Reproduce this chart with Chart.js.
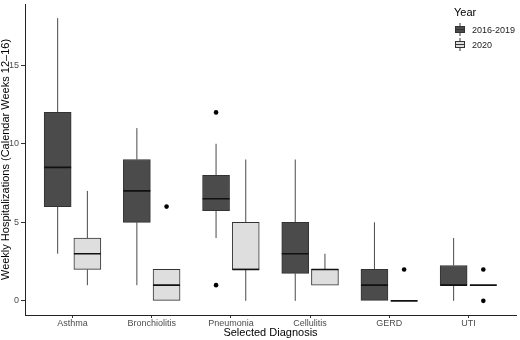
<!DOCTYPE html>
<html lang="en">
<head>
<meta charset="UTF-8">
<title>Weekly Hospitalizations</title>
<script src="https://cdn.jsdelivr.net/npm/chart.js"></script>
<style>
  body { margin: 0; background: #fff; font-family: "Liberation Sans", Arial, sans-serif; }
  #wrap { position: relative; width: 520px; height: 340px; }
  #legend { position: absolute; left: 454px; top: 6px; color: #000; }
  #legend .ttl { font-size: 11px; margin-bottom: 4px; }
  #legend .row { display: flex; align-items: center; height: 15px; font-size: 9px; color: #222; }
  #legend canvas { margin-right: 6px; }
</style>
</head>
<body>
<div id="wrap">
  <canvas id="chart" width="520" height="340"></canvas>
  <div id="legend">
    <div class="ttl">Year</div>
    <div class="row"><canvas id="k1" width="12" height="13"></canvas>2016-2019</div>
    <div class="row"><canvas id="k2" width="12" height="13"></canvas>2020</div>
  </div>
</div>
<script>
// categories and box statistics
const categories = ['Asthma', 'Bronchiolitis', 'Pneumonia', 'Cellulitis', 'GERD', 'UTI'];
const seriesNames = ['2016-2019', '2020'];

const preLow = [3, 1, 4, 0, 0, 0];
const preQ1 = [6, 5, 5.75, 1.75, 0, 1];
const preMed = [8.5, 7, 6.5, 3, 1, 1];
const preQ3 = [12, 9, 8, 5, 2, 2.25];
const preHigh = [18, 11, 10, 9, 5, 4];
const preOut = [[], [], [12, 1], [], [], []];

const curLow = [1, 0, 0, 1, 0, 1];
const curQ1 = [2, 0, 2, 1, 0, 1];
const curMed = [3, 1, 2, 2, 0, 1];
const curQ3 = [4, 2, 5, 2, 0, 1];
const curHigh = [7, 2, 9, 3, 0, 1];
const curOut = [[], [6], [], [], [2], [2, 0]];

const yTicks = [0, 5, 10, 15];

const DARK = '#4b4b4b';
const LIGHT = '#dedede';
const EDGE = '#333333';
const DODGE = 0.1875;
const HALF = 0.17;

function boxes(q1, q3, shift) {
  return categories.map((c, i) => ({ x: i + 1 + shift, y: [q1[i], q3[i]] }));
}
function whiskers(lo, q1, q3, hi, shift) {
  const pts = [];
  categories.forEach((c, i) => {
    const x = i + 1 + shift;
    pts.push({ x, y: lo[i] }, { x, y: q1[i] }, { x, y: null });
    pts.push({ x, y: q3[i] }, { x, y: hi[i] }, { x, y: null });
  });
  return pts;
}
function medians(med, shift) {
  const pts = [];
  categories.forEach((c, i) => {
    const x = i + 1 + shift;
    pts.push({ x: x - HALF, y: med[i] }, { x: x + HALF, y: med[i] }, { x, y: null });
  });
  return pts;
}
function outliers(out, shift) {
  const pts = [];
  out.forEach((vals, i) => vals.forEach(v => pts.push({ x: i + 1 + shift, y: v })));
  return pts;
}

const lineStyle = { type: 'line', borderColor: EDGE, borderWidth: 1, pointRadius: 0, spanGaps: false, fill: false };

new Chart(document.getElementById('chart'), {
  type: 'bar',
  data: {
    datasets: [
      { label: seriesNames[0], data: boxes(preQ1, preQ3, -DODGE), backgroundColor: DARK, borderColor: EDGE,
        borderWidth: 1, borderSkipped: false, barThickness: 27, grouped: false, order: 2 },
      { label: seriesNames[1], data: boxes(curQ1, curQ3, DODGE), backgroundColor: LIGHT, borderColor: EDGE,
        borderWidth: 1, borderSkipped: false, barThickness: 27, grouped: false, order: 2 },
      Object.assign({ label: 'w1', data: whiskers(preLow, preQ1, preQ3, preHigh, -DODGE), order: 3 }, lineStyle, { borderColor: '#4a4a4a' }),
      Object.assign({ label: 'w2', data: whiskers(curLow, curQ1, curQ3, curHigh, DODGE), order: 3 }, lineStyle, { borderColor: '#4a4a4a' }),
      Object.assign({ label: 'm1', data: medians(preMed, -DODGE), order: 1 }, lineStyle, { borderColor: '#111', borderWidth: 1.6 }),
      Object.assign({ label: 'm2', data: medians(curMed, DODGE), order: 1 }, lineStyle, { borderColor: '#111', borderWidth: 1.6 }),
      { type: 'scatter', label: 'o1', data: outliers(preOut, -DODGE), pointRadius: 2.3, backgroundColor: '#000', borderWidth: 0, order: 0 },
      { type: 'scatter', label: 'o2', data: outliers(curOut, DODGE), pointRadius: 2.3, backgroundColor: '#000', borderWidth: 0, order: 0 }
    ]
  },
  options: {
    responsive: false,
    animation: false,
    layout: { padding: { top: 2, right: 2, left: 0, bottom: 0 } },
    plugins: { legend: { display: false }, tooltip: { enabled: false } },
    scales: {
      x: {
        type: 'linear', min: 0.4, max: 6.6, offset: false,
        afterBuildTicks: s => { s.ticks = categories.map((c, i) => ({ value: i + 1 })); },
        afterFit: s => { s.height = 25; s.paddingLeft = 0; s.paddingRight = 0; },
        ticks: { callback: v => categories[v - 1], color: '#4d4d4d', padding: 0, maxRotation: 0,
                 font: { family: 'Liberation Sans', size: 9 } },
        grid: { offset: false, drawOnChartArea: false, drawTicks: true, tickLength: 3, color: '#333' },
        border: { display: true, color: '#222', width: 1 },
        title: { display: true, text: 'Selected Diagnosis', color: '#000', padding: { top: 0, bottom: 0 },
                 font: { family: 'Liberation Sans', size: 11 } }
      },
      y: {
        min: -0.9, max: 18.9,
        afterBuildTicks: s => { s.ticks = yTicks.map(v => ({ value: v })); },
        afterFit: s => { s.width = 25; s.paddingTop = 0; s.paddingBottom = 0; },
        ticks: { color: '#4d4d4d', padding: 2, font: { family: 'Liberation Sans', size: 9 } },
        grid: { drawOnChartArea: false, drawTicks: true, tickLength: 4, color: '#333' },
        border: { display: true, color: '#222', width: 1 },
        title: { display: true, text: 'Weekly Hospitalizations (Calendar Weeks 12\u201316)', color: '#000',
                 padding: { top: 0, bottom: 0 }, font: { family: 'Liberation Sans', size: 11, lineHeight: 1 } }
      }
    }
  }
});

// legend key glyphs (small boxplot symbols)
function key(id, fill) {
  const g = document.getElementById(id).getContext('2d');
  g.strokeStyle = EDGE;
  g.lineWidth = 1;
  g.beginPath(); g.moveTo(6, 0); g.lineTo(6, 13); g.stroke();
  g.fillStyle = fill;
  g.fillRect(1.5, 3.5, 9, 6);
  g.strokeRect(1.5, 3.5, 9, 6);
  g.beginPath(); g.moveTo(1.5, 6.5); g.lineTo(10.5, 6.5); g.stroke();
}
key('k1', DARK);
key('k2', LIGHT);
</script>
</body>
</html>
